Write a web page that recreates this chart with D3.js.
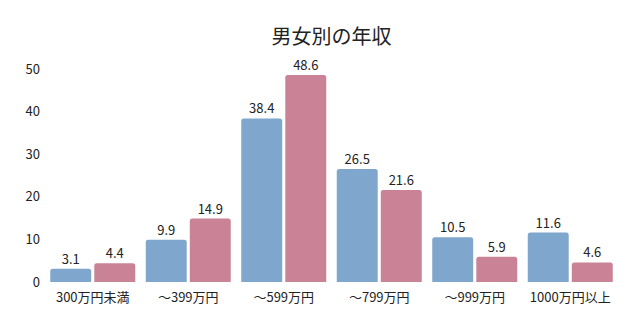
<!DOCTYPE html>
<html>
<head>
<meta charset="utf-8">
<script src="https://cdn.jsdelivr.net/npm/d3@7"></script>
<style>
  body { margin: 0; background: #fff; }
  text { font-family: "Noto Sans CJK JP", "Noto Sans", sans-serif; fill: #222; }
</style>
</head>
<body>
<script>
var categories = ["300万円未満", "〜399万円", "〜599万円", "〜799万円", "〜999万円", "1000万円以上"];
var men = [3.1, 9.9, 38.4, 26.5, 10.5, 11.6];
var women = [4.4, 14.9, 48.6, 21.6, 5.9, 4.6];
var yTicks = [0, 10, 20, 30, 40, 50];
var seriesNames = ["男性", "女性"];
var colors = ["#7fa6cc", "#c98296"];

var width = 640, height = 328;
var margin = { top: 69, right: 22, bottom: 46, left: 45 };

var svg = d3.select("body").append("svg")
  .attr("width", width)
  .attr("height", height);

var x = d3.scaleBand()
  .domain(categories)
  .range([margin.left, width - margin.right])
  .paddingInner(0.11)
  .paddingOuter(0.055);

var x1 = d3.scaleBand()
  .domain(seriesNames)
  .range([0, x.bandwidth()])
  .paddingInner(0.07);

var y = d3.scaleLinear()
  .domain([0, 50])
  .range([height - margin.bottom, margin.top]);

// title
svg.append("text")
  .attr("x", (margin.left + width - margin.right) / 2)
  .attr("y", 44)
  .attr("text-anchor", "middle")
  .style("font-size", "20px")
  .text("男女別の年収");

// y axis labels
svg.selectAll(".ytick")
  .data(yTicks)
  .enter()
  .append("text")
  .attr("class", "ytick")
  .attr("x", 40)
  .attr("y", function (d) { return y(d); })
  .attr("dy", "0.35em")
  .attr("text-anchor", "end")
  .style("font-size", "13px")
  .text(function (d) { return d; });

// x axis labels
svg.selectAll(".xtick")
  .data(categories)
  .enter()
  .append("text")
  .attr("class", "xtick")
  .attr("x", function (d) { return x(d) + x.bandwidth() / 2; })
  .attr("y", y(0) + 20)
  .attr("text-anchor", "middle")
  .style("font-size", "13px")
  .text(function (d) { return d; });

var rows = categories.map(function (c, i) {
  return { cat: c, vals: [men[i], women[i]] };
});

var groups = svg.selectAll(".grp")
  .data(rows)
  .enter()
  .append("g")
  .attr("class", "grp")
  .attr("transform", function (d) { return "translate(" + x(d.cat) + ",0)"; });

function topRounded(x0, y0, w, h, r) {
  r = Math.min(r, h);
  return "M" + x0 + "," + (y0 + h) +
    "V" + (y0 + r) +
    "Q" + x0 + "," + y0 + " " + (x0 + r) + "," + y0 +
    "H" + (x0 + w - r) +
    "Q" + (x0 + w) + "," + y0 + " " + (x0 + w) + "," + (y0 + r) +
    "V" + (y0 + h) + "Z";
}

groups.selectAll("path")
  .data(function (d) { return d.vals.map(function (v, j) { return { v: v, s: seriesNames[j], j: j }; }); })
  .enter()
  .append("path")
  .attr("d", function (d) {
    return topRounded(x1(d.s), y(d.v), x1.bandwidth(), y(0) - y(d.v), 2.5);
  })
  .attr("fill", function (d) { return colors[d.j]; });

groups.selectAll(".val")
  .data(function (d) { return d.vals.map(function (v, j) { return { v: v, s: seriesNames[j] }; }); })
  .enter()
  .append("text")
  .attr("class", "val")
  .attr("x", function (d) { return x1(d.s) + x1.bandwidth() / 2; })
  .attr("y", function (d) { return y(d.v) - 5; })
  .attr("text-anchor", "middle")
  .style("font-size", "13px")
  .text(function (d) { return d.v.toFixed(1); });
</script>
</body>
</html>
